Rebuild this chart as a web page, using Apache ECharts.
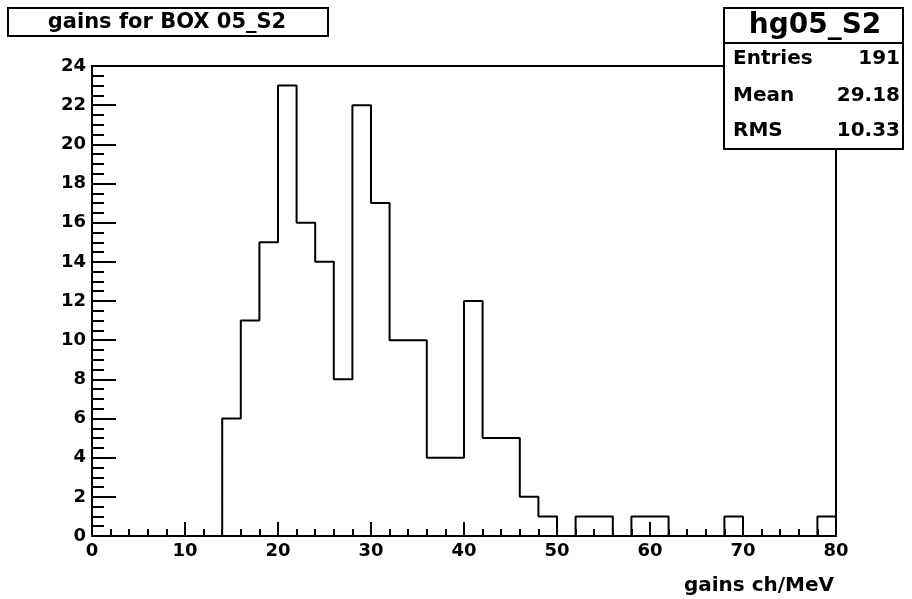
<!DOCTYPE html>
<html>
<head>
<meta charset="utf-8">
<script src="https://cdn.jsdelivr.net/npm/echarts@6/dist/echarts.min.js"></script>
<style>
  html, body { margin: 0; padding: 0; background: #fff; }
  #chart { width: 912px; height: 599px; }
</style>
</head>
<body>
<div id="chart"></div>
<script>
// histogram hg05_S2 : lower bin edges and counts
const binEdges = [0, 2, 4, 6, 8, 10, 12, 14, 16, 18, 20, 22, 24, 26, 28, 30, 32, 34, 36, 38,
  40, 42, 44, 46, 48, 50, 52, 54, 56, 58, 60, 62, 64, 66, 68, 70, 72, 74, 76, 78]
const counts = [0, 0, 0, 0, 0, 0, 0, 6, 11, 15, 23, 16, 14, 8, 22, 17, 10, 10, 4, 4,
  12, 5, 5, 2, 1, 0, 1, 1, 0, 1, 1, 0, 0, 0, 1, 0, 0, 0, 0, 1]
const histMax = 80

const xTicks = [0, 10, 20, 30, 40, 50, 60, 70, 80]
const yTicks = [0, 2, 4, 6, 8, 10, 12, 14, 16, 18, 20, 22, 24]

const histTitle = 'gains for BOX 05_S2'
const statsName = 'hg05_S2'
const statsRows = [
  ['Entries', '191'],
  ['Mean', '29.18'],
  ['RMS', '10.33']
]
const xName = 'gains ch/MeV'

const FONT = '"DejaVu Sans", "Liberation Sans", sans-serif'

const chart = echarts.init(document.getElementById('chart'))

// step line along bin edges, closed at the last edge
const stepData = binEdges.map((x, i) => [x, counts[i]])
stepData.push([histMax, 0])

const statsGraphics = [
  {
    type: 'rect',
    shape: { x: 724, y: 8, width: 179, height: 141 },
    style: { fill: '#fff', stroke: '#000', lineWidth: 2 },
    z: 100
  },
  {
    type: 'line',
    shape: { x1: 724, y1: 43, x2: 903, y2: 43 },
    style: { stroke: '#000', lineWidth: 2 },
    z: 101
  },
  {
    type: 'text',
    x: 815, y: 26,
    style: {
      text: statsName, fill: '#000', font: 'bold 28px ' + FONT,
      textAlign: 'center', textVerticalAlign: 'middle'
    },
    z: 101
  }
]
const rowY = [59, 96, 131]
statsRows.forEach((row, i) => {
  statsGraphics.push({
    type: 'text', x: 733, y: rowY[i],
    style: { text: row[0], fill: '#000', font: 'bold 20px ' + FONT, textAlign: 'left', textVerticalAlign: 'middle' },
    z: 101
  })
  statsGraphics.push({
    type: 'text', x: 900, y: rowY[i],
    style: { text: row[1], fill: '#000', font: 'bold 20px ' + FONT, textAlign: 'right', textVerticalAlign: 'middle' },
    z: 101
  })
})

const option = {
  animation: false,
  backgroundColor: '#fff',
  grid: {
    left: 92, right: 76, top: 66, bottom: 63,
    show: true, borderColor: '#000', borderWidth: 2, backgroundColor: 'transparent'
  },
  xAxis: {
    type: 'value',
    min: xTicks[0], max: xTicks[xTicks.length - 1], interval: 10,
    axisLine: { show: true, onZero: false, lineStyle: { color: '#000', width: 2 } },
    axisTick: { show: true, inside: true, length: 14, lineStyle: { color: '#000', width: 2 } },
    minorTick: { show: true, splitNumber: 5, length: 7, lineStyle: { color: '#000', width: 2 } },
    axisLabel: { color: '#000', fontFamily: FONT, fontWeight: 'bold', fontSize: 18, margin: 6 },
    splitLine: { show: false }
  },
  yAxis: {
    type: 'value',
    min: yTicks[0], max: yTicks[yTicks.length - 1], interval: 2,
    axisLine: { show: true, onZero: false, lineStyle: { color: '#000', width: 2 } },
    axisTick: { show: true, inside: true, length: 24, lineStyle: { color: '#000', width: 2 } },
    minorTick: { show: true, splitNumber: 4, length: 12, lineStyle: { color: '#000', width: 2 } },
    axisLabel: { color: '#000', fontFamily: FONT, fontWeight: 'bold', fontSize: 18, margin: 6 },
    splitLine: { show: false }
  },
  series: [
    {
      type: 'line',
      step: 'end',
      data: stepData,
      showSymbol: false,
      lineStyle: { color: '#000', width: 2 },
      z: 3
    }
  ],
  graphic: [
    {
      type: 'rect',
      shape: { x: 8, y: 8, width: 320, height: 28 },
      style: { fill: '#fff', stroke: '#000', lineWidth: 2 },
      z: 100
    },
    {
      type: 'text',
      x: 167, y: 23,
      style: {
        text: histTitle, fill: '#000', font: 'bold 21px ' + FONT,
        textAlign: 'center', textVerticalAlign: 'middle'
      },
      z: 101
    },
    {
      type: 'text',
      x: 834, y: 586,
      style: {
        text: xName, fill: '#000', font: 'bold 20px ' + FONT,
        textAlign: 'right', textVerticalAlign: 'middle'
      },
      z: 101
    }
  ].concat(statsGraphics)
}

chart.setOption(option)
window.addEventListener('resize', () => chart.resize())
</script>
</body>
</html>
